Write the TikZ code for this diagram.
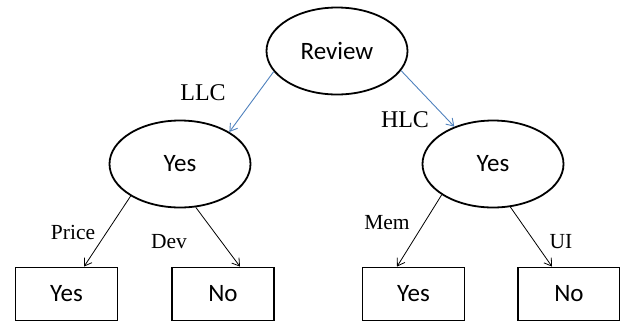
\documentclass[tikz,border=0pt]{standalone}
\usepackage{fontspec}
\setmainfont{Liberation Serif}
\newfontfamily\nodefont{Carlito}
\usetikzlibrary{shapes.geometric,arrows.meta}
\definecolor{arrblue}{HTML}{4F81BD}
\begin{document}
\begin{tikzpicture}[x=1pt,y=-1pt,
  ell/.style={ellipse,draw,line width=1.8pt,inner sep=0pt,minimum width=141pt,minimum height=87pt,font=\nodefont\fontsize{25}{28}\selectfont},
  leaf/.style={rectangle,draw,line width=1.8pt,inner sep=0pt,minimum width=102pt,minimum height=53pt,font=\nodefont\fontsize{25}{28}\selectfont},
  blarr/.style={draw=arrblue,line width=0.9pt,-{Straight Barb[length=7pt,width=9pt]}},
  bkarr/.style={draw=black,line width=0.8pt,-{Straight Barb[length=7pt,width=9pt]}},
  biglab/.style={font=\fontsize{24}{28}\selectfont,inner sep=0pt},
  smlab/.style={font=\fontsize{21.5}{24}\selectfont,inner sep=0pt}]
\useasboundingbox (0,0) rectangle (620,325);
\node[ell] (rev) at (337,51) {Review};
\node[ell] (ly) at (180,164) {Yes};
\node[ell] (ry) at (493,164) {Yes};
\node[leaf] (b1) at (66.5,294) {Yes};
\node[leaf] (b2) at (223,294) {No};
\node[leaf] (b3) at (413.5,294) {Yes};
\node[leaf] (b4) at (569,294) {No};
\draw[blarr] (rev.198) -- (ly.33);
\draw[blarr] (rev.-17) -- (ry.136);
\draw[bkarr] (ly.213) -- ([xshift=17.5pt]b1.north);
\draw[bkarr] (ly.-70) -- ([xshift=17pt]b2.north);
\draw[bkarr] (ry.211) -- ([xshift=-16.5pt]b3.north);
\draw[bkarr] (ry.-68) -- ([xshift=-17pt]b4.north);
\node[biglab] (llc) at (203,93) {LLC};
\node[biglab] (hlc) at (405,120) {HLC};
\node[smlab] (lp) at (73,232) {Price};
\node[smlab] (ld) at (169,242) {Dev};
\node[smlab] (lm) at (387,223) {Mem};
\node[smlab] (lu) at (561,242) {UI};
\end{tikzpicture}
\end{document}
